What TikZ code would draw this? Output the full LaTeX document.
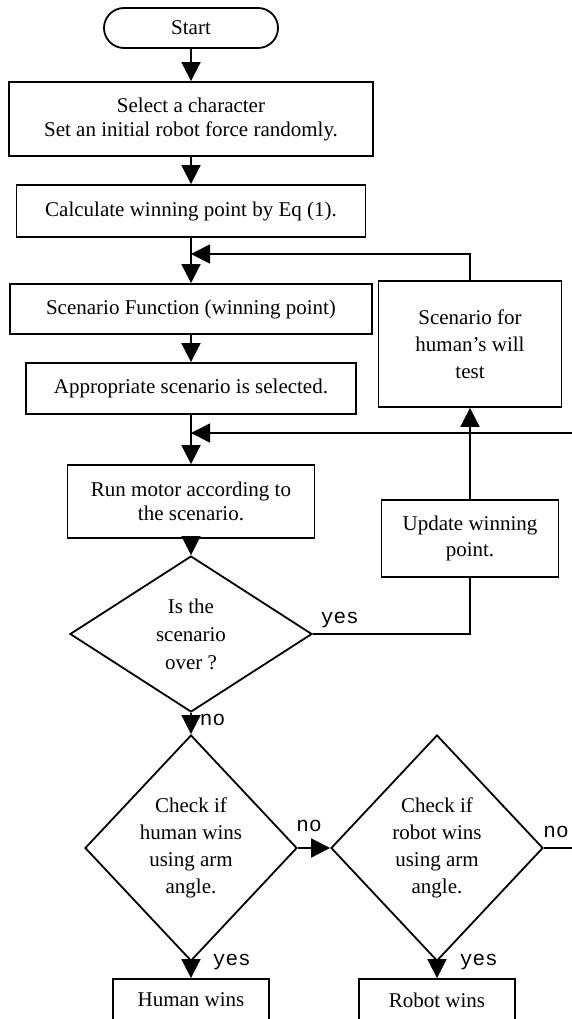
\documentclass[tikz,border=0pt]{standalone}
\usepackage{fontspec}
\setmainfont{Liberation Serif}
\newfontfamily\labfont{Liberation Mono}
\usetikzlibrary{shapes.geometric,arrows.meta}
\begin{document}
\begin{tikzpicture}[x=1pt,y=-1pt,
  line width=1.8pt,
  box/.style={draw, rectangle, inner sep=0pt, align=center, font=\fontsize{21}{24}\selectfont},
  term/.style={draw, rectangle, rounded corners=20pt, inner sep=0pt, align=center, font=\fontsize{21}{24}\selectfont},
  dia/.style={draw, diamond, inner sep=0pt, align=center, font=\fontsize{21}{27}\selectfont},
  arr/.style={-{Triangle[length=19pt,width=19pt]}},
  lab/.style={font=\labfont\fontsize{21}{24}\selectfont, inner sep=0pt}
]
\useasboundingbox[fill=white] (0,0) rectangle (572,1019);

\node[term, minimum width=174pt, minimum height=40pt] (start) at (191,28) {Start};
\node[box, minimum width=364pt, minimum height=74pt] (b1) at (191,119) {Select a character\\Set an initial robot force randomly.};
\node[box, minimum width=349pt, minimum height=52pt] (b2) at (191,211) {Calculate winning point by Eq (1).};
\node[box, minimum width=362pt, minimum height=50pt] (b3) at (191,309) {Scenario Function (winning point)};
\node[box, minimum width=330pt, minimum height=51pt] (b4) at (191,388.5) {Appropriate scenario is selected.};
\node[box, minimum width=247pt, minimum height=73pt] (b5) at (191,501.5) {Run motor according to\\the scenario.};
\node[box, minimum width=183pt, minimum height=126pt, font=\fontsize{21}{27}\selectfont] (sfor) at (470,344) {Scenario for\\human’s will\\test};
\node[box, minimum width=177pt, minimum height=77pt, font=\fontsize{21}{26}\selectfont] (upd) at (470,538.5) {Update winning\\point.};
\node[dia, minimum width=242pt, minimum height=156pt, font=\fontsize{21}{28}\selectfont] (d1) at (191,634) {Is the\\scenario\\over ?};
\node[dia, minimum width=212pt, minimum height=226pt] (d2) at (191,848) {Check if\\human wins\\using arm\\angle.};
\node[dia, minimum width=212pt, minimum height=226pt] (d3) at (437,848) {Check if\\robot wins\\using arm\\angle.};
\node[box, minimum width=156pt, minimum height=42pt] (hw) at (191,1000) {Human wins};
\node[box, minimum width=156pt, minimum height=42pt] (rw) at (437,1000) {Robot wins};

\coordinate (j1) at (191,254);
\coordinate (j2) at (191,433);
\coordinate (e2) at (572,433);
\coordinate (e3) at (572,848);

\draw[arr] (start.south) -- (b1.north);
\draw[arr] (b1.south) -- (b2.north);
\draw[arr] (b2.south) -- (b3.north);
\draw[arr] (sfor.north) |- (j1);
\draw[arr] (b3.south) -- (b4.north);
\draw[arr] (b4.south) -- (b5.north);
\draw[arr] (e2) -- (j2);
\draw[arr] (b5.south) -- (d1.north);
\draw (d1.east) -| (upd.south);
\draw[arr] (upd.north) -- (sfor.south);
\draw[arr] (d1.south) -- (d2.north);
\draw[arr] (d2.east) -- (d3.west);
\draw (d3.east) -- (e3);
\draw[arr] (d2.south) -- (hw.north);
\draw[arr] (d3.south) -- (rw.north);

\node[lab, anchor=west] (lyes1) at (320,620) {yes};
\node[lab, anchor=west] (lno1) at (199,720) {no};
\node[lab] (lno2) at (309,826) {no};
\node[lab] (lno3) at (556,832) {no};
\node[lab, anchor=west] (lyes2) at (212,962) {yes};
\node[lab, anchor=west] (lyes3) at (459,962) {yes};
\end{tikzpicture}
\end{document}
